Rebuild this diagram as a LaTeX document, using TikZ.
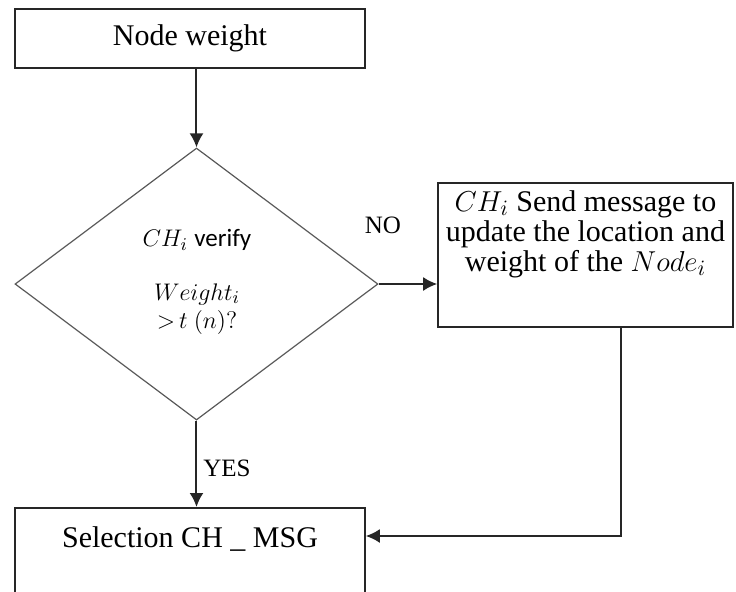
\documentclass[tikz,border=0pt]{standalone}
\usepackage{fontspec}
\setmainfont{Liberation Serif}
\newfontfamily\calibrifont{Carlito}
\usetikzlibrary{shapes.geometric,arrows.meta,calc}
\begin{document}
\begin{tikzpicture}[x=0.5pt,y=-0.5pt,
  boxstyle/.style={rectangle, draw=black!85, line width=0.8pt, inner sep=0pt},
  decision/.style={diamond, draw=black!65, line width=0.6pt, inner sep=0pt,
    minimum width=181.5pt, minimum height=136pt},
  arr/.style={-{Latex[length=7pt,width=7pt]}, draw=black!85, line width=1pt},
  lbl/.style={font=\fontsize{12.5}{14}\selectfont, inner sep=0pt},
  bigtxt/.style={font=\fontsize{15}{15}\selectfont, inner sep=0pt, align=center},
  dtxt/.style={font=\fontsize{12.5}{14}\selectfont, inner sep=0pt, align=center}]
\useasboundingbox (0,0) rectangle (736,591);
\clip (0,0) rectangle (736,591);
% top box
\node[boxstyle, minimum width=175pt, minimum height=29.5pt,
  font=\fontsize{15}{18}\selectfont] (nw) at (190,38.5) {Node weight};
% decision
\node[decision] (dec) at (196.5,284) {};
\node[dtxt] (dt1) at (197,240) {$CH_i$ {\calibrifont verify}};
\node[dtxt] (dt2) at (197,309) {$Weight_i$\\ ${>}\,t\ (n)?$};
% message box
\node[boxstyle, minimum width=147.5pt, minimum height=72pt] (msg) at (585.5,255) {};
\node[bigtxt] (msgtxt) at (585.5,234) {$CH_i$ Send message to\\update the location and\\weight of the $Node_i$};
% selection box
\node[boxstyle, minimum width=175pt, minimum height=60pt, anchor=north] (sel) at (190,507) {};
\node[bigtxt] (seltxt) at (190,539) {Selection CH \_ MSG};
% labels
\node[lbl] (no) at (383,225) {NO};
\node[lbl, anchor=west] (yes) at (203,468) {YES};
% connectors
\draw[arr] (dec.north |- nw.south) -- (dec.north);
\draw[arr] (dec.east) -- (dec.east -| msg.west);
\draw[arr] (dec.south) -- (dec.south |- sel.north);
\coordinate (turn) at (621,536);
\draw[arr] (msg.south -| turn) -- (turn) -- (turn -| sel.east);
\end{tikzpicture}
\end{document}
